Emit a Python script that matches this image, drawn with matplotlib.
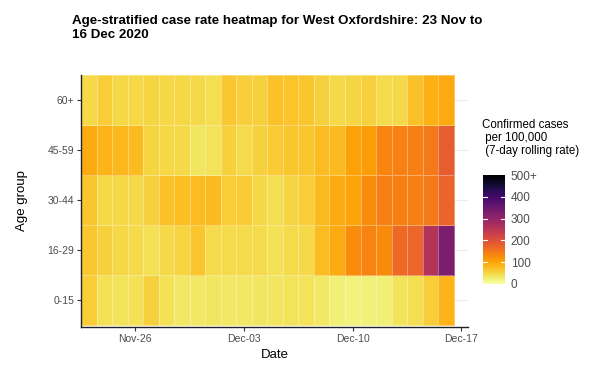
import matplotlib
matplotlib.use("Agg")
import matplotlib.pyplot as plt
import matplotlib.dates as mdates
import numpy as np
import pandas as pd
from matplotlib.colors import Normalize

plt.rcParams['font.family'] = ['Liberation Sans', 'DejaVu Sans']

dates = pd.date_range("2020-11-23", "2020-12-16", freq="D")
age_groups = ["0-15", "16-29", "30-44", "45-59", "60+"]

rate_0_15 = [60, 40, 38, 40, 55, 40, 32, 32, 35, 33, 33, 35, 35, 38, 38, 33, 25, 20, 22, 25, 38, 42, 60, 85]
rate_16_29 = [65, 55, 50, 45, 40, 48, 52, 68, 45, 45, 45, 45, 40, 45, 47, 78, 95, 125, 135, 128, 165, 170, 258, 330]
rate_30_44 = [68, 48, 50, 48, 55, 72, 75, 78, 80, 60, 62, 50, 42, 52, 60, 80, 92, 100, 125, 140, 140, 140, 148, 172]
rate_45_59 = [92, 85, 82, 80, 52, 50, 48, 35, 38, 55, 45, 55, 62, 68, 68, 78, 80, 105, 108, 133, 138, 140, 148, 182]
rate_60p = [48, 60, 50, 50, 52, 50, 50, 47, 42, 65, 57, 55, 72, 70, 67, 55, 48, 52, 55, 45, 48, 72, 88, 95]

legend_title = "Confirmed cases\n per 100,000\n (7-day rolling rate)"
cbar_ticks = [0, 100, 200, 300, 400, 500]
cbar_labels = ["0", "100", "200", "300", "400", "500+"]
x_ticks = ["2020-11-26", "2020-12-03", "2020-12-10", "2020-12-17"]

values = np.array([rate_0_15, rate_16_29, rate_30_44, rate_45_59, rate_60p])

fig = plt.figure(figsize=(5.89, 3.72), dpi=100)
ax = fig.add_axes([81/589, 1-327/372, 387/589, 252/372])

xnum = mdates.date2num(dates)
xedges = np.append(xnum - 0.5, xnum[-1] + 0.5)
yedges = np.arange(len(age_groups) + 1) + 0.5

norm = Normalize(vmin=0, vmax=500)
cmap = plt.get_cmap("inferno_r")
for yy in range(1, 6):
    ax.axhline(yy, color="#ebebeb", lw=0.8, zorder=0)
mesh = ax.pcolormesh(xedges, yedges, values, cmap=cmap, norm=norm,
                     edgecolors=(1, 1, 1, 0.35), linewidth=0.6, zorder=1)

ax.set_xlim(xnum[0] - 0.5, mdates.date2num(pd.Timestamp("2020-12-17")) + 0.42)
ax.set_ylim(0.45, 5.5)
ax.set_yticks(np.arange(1, 6))
ax.set_yticklabels(age_groups)
ax.set_xticks(mdates.date2num(pd.to_datetime(x_ticks)))
ax.xaxis.set_major_formatter(mdates.DateFormatter("%b-%d"))
for s in ["top", "right"]:
    ax.spines[s].set_visible(False)
for s in ["left", "bottom"]:
    ax.spines[s].set_color("#222222")
    ax.spines[s].set_linewidth(1.0)
ax.tick_params(axis="both", labelsize=7.5, colors="#4d4d4d", length=3, width=0.8, pad=2)
ax.tick_params(axis="both", color="#333333")
ax.set_xlabel("Date", fontsize=9.5, labelpad=4)
ax.set_ylabel("Age group", fontsize=9.5, labelpad=14)

fig.text(72/589, 1-15/372, "Age-stratified case rate heatmap for West Oxfordshire: 23 Nov to\n16 Dec 2020",
         fontsize=9.6, fontweight="bold", ha="left", va="top", linespacing=1.25)

cax = fig.add_axes([483/589, 1-284/372, 22/589, 109/372])
cb = fig.colorbar(mesh, cax=cax, ticks=cbar_ticks)
cb.set_ticklabels(cbar_labels)
cb.outline.set_visible(False)
cax.tick_params(labelsize=8.5, colors="#4d4d4d", length=0, pad=4)
for t in cbar_ticks[1:-1]:
    cax.plot([0, 0.2], [t, t], color="white", lw=0.8, transform=cax.get_yaxis_transform())
    cax.plot([0.8, 1], [t, t], color="white", lw=0.8, transform=cax.get_yaxis_transform())
fig.text(482/589, 1-119/372, legend_title, fontsize=8.3, ha="left", va="top", linespacing=1.1)

fig.savefig("out.png", dpi=100, facecolor="white")
